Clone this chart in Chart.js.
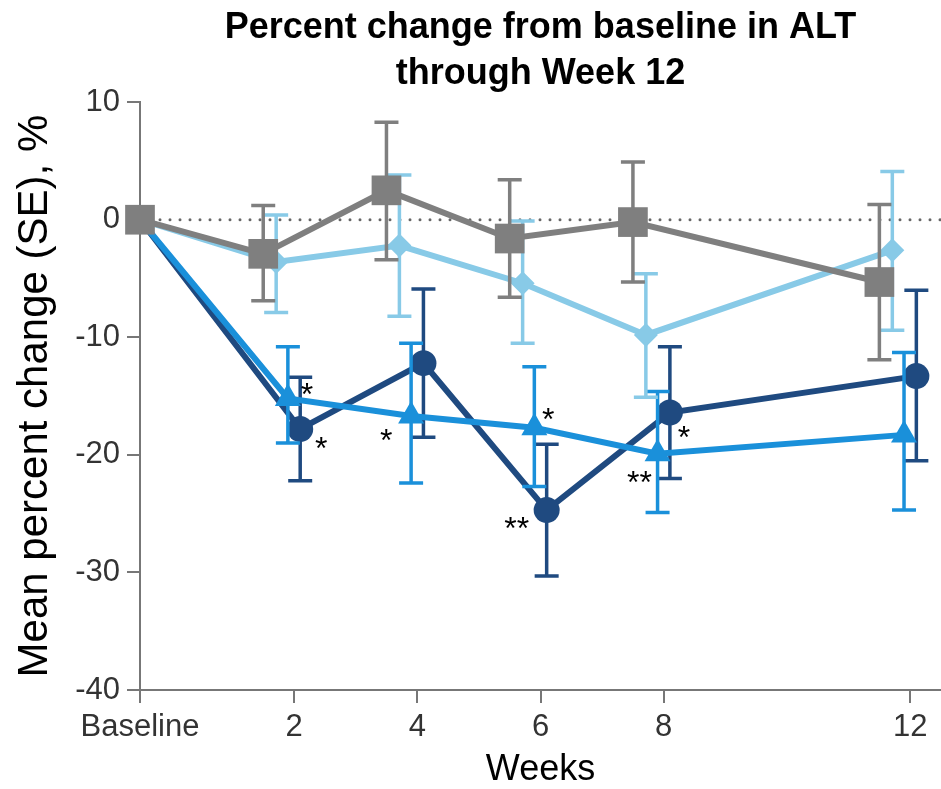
<!DOCTYPE html>
<html>
<head>
<meta charset="utf-8">
<script src="https://cdn.jsdelivr.net/npm/chart.js@4/dist/chart.umd.min.js"></script>
<style>
  html, body { margin: 0; padding: 0; background: #fff; overflow: hidden; }
  #wrap { width: 941px; height: 789px; position: relative; overflow: hidden; }
</style>
</head>
<body>
<div id="wrap"><canvas id="altChart"></canvas></div>
<script>
// categories on the x axis
var weeks = ['Baseline', 2, 4, 6, 8, 12];

// grey squares
var squareMean = [0, -2.9, 2.5, -1.6, -0.2, -5.3];
var squareHigh = [null, 1.2, 8.3, 3.4, 4.9, 1.3];
var squareLow  = [null, -6.9, -3.4, -6.6, -5.3, -11.9];

// light blue diamonds
var diamondMean = [0, -3.6, -2.2, -5.4, -9.8, -2.6];
var diamondHigh = [null, 0.4, 3.8, -0.1, -4.6, 4.1];
var diamondLow  = [null, -7.9, -8.2, -10.5, -15.1, -9.4];

// blue triangles
var triangleMean = [0, -15.2, -16.7, -17.7, -19.9, -18.3];
var triangleHigh = [null, -10.8, -10.5, -12.5, -14.6, -11.3];
var triangleLow  = [null, -19.0, -22.4, -22.7, -24.9, -24.7];

// dark blue circles
var circleMean = [0, -17.8, -12.2, -24.7, -16.4, -13.3];
var circleHigh = [null, -13.4, -5.9, -19.1, -10.8, -6.0];
var circleLow  = [null, -22.2, -18.5, -30.3, -22.0, -20.5];

// significance marks: [series, week index, text]
var sigMarks = [
    ['triangle', 1, '*'],
    ['circle', 1, '*'],
    ['triangle', 2, '*'],
    ['triangle', 3, '*'],
    ['circle', 3, '**'],
    ['triangle', 4, '**'],
    ['circle', 4, '*']
];

// layout helpers (not data)
function weekPos(w) { return w === 'Baseline' ? -0.5 : w; }
var dodge = { square: -0.5, diamond: -0.29, triangle: -0.1, circle: 0.1 };
var sigOffset = [[19, -11], [21, 12], [-25, 17], [14, -15], [-30, 11], [-18, 22], [14, 18]];

function points(key, means) {
    return weeks.map(function (w, i) {
        var x = i === 0 ? weekPos(w) : weekPos(w) + dodge[key];
        return { x: x, y: means[i] };
    });
}

function makeSet(key, means, hi, lo, color, style, radius) {
    return {
        key: key,
        data: points(key, means),
        errHigh: hi,
        errLow: lo,
        borderColor: color,
        backgroundColor: color,
        borderWidth: 6,
        pointStyle: style,
        pointRadius: radius,
        pointHoverRadius: radius,
        pointBorderWidth: 0,
        tension: 0,
        clip: false
    };
}

var zeroLine = {
    id: 'zeroLine',
    beforeDatasetsDraw: function (chart) {
        var ctx = chart.ctx, a = chart.chartArea;
        var y0 = chart.scales.y.getPixelForValue(0);
        ctx.save();
        ctx.strokeStyle = '#666';
        ctx.lineWidth = 3;
        ctx.lineCap = 'round';
        ctx.setLineDash([0, 10]);
        ctx.beginPath();
        ctx.moveTo(a.left + 10, y0);
        ctx.lineTo(a.right, y0);
        ctx.stroke();
        ctx.restore();
    }
};

var errorBars = {
    id: 'errorBars',
    beforeDatasetDraw: function (chart, args) {
        var ds = chart.data.datasets[args.index];
        var xs = chart.scales.x, ys = chart.scales.y, ctx = chart.ctx;
        ctx.save();
        ctx.strokeStyle = ds.borderColor;
        ctx.lineWidth = 3.5;
        ds.data.forEach(function (p, i) {
            if (ds.errHigh[i] == null) return;
            var px = xs.getPixelForValue(p.x);
            var top = ys.getPixelForValue(ds.errHigh[i]);
            var bot = ys.getPixelForValue(ds.errLow[i]);
            ctx.beginPath();
            ctx.moveTo(px, top); ctx.lineTo(px, bot);
            ctx.moveTo(px - 12, top); ctx.lineTo(px + 12, top);
            ctx.moveTo(px - 12, bot); ctx.lineTo(px + 12, bot);
            ctx.stroke();
        });
        ctx.restore();
    }
};

var stars = {
    id: 'stars',
    afterDatasetsDraw: function (chart) {
        var ctx = chart.ctx, xs = chart.scales.x, ys = chart.scales.y;
        ctx.save();
        ctx.fillStyle = '#000';
        ctx.font = '32px "Liberation Sans", Arial, sans-serif';
        ctx.textAlign = 'center';
        ctx.textBaseline = 'alphabetic';
        sigMarks.forEach(function (m, k) {
            var ds = chart.data.datasets.find(function (d) { return d.key === m[0]; });
            var p = ds.data[m[1]];
            var px = xs.getPixelForValue(p.x) + sigOffset[k][0];
            var py = ys.getPixelForValue(p.y) + sigOffset[k][1];
            ctx.fillText(m[2], px, py + 32 * 0.55);
        });
        ctx.restore();
    }
};

var tickFont = { family: '"Liberation Sans", Arial, sans-serif', size: 31 };

var ctx = document.getElementById('altChart').getContext('2d');
var altChart = new Chart(ctx, {
    type: 'line',
    data: {
        datasets: [
            makeSet('square', squareMean, squareHigh, squareLow, '#7f7f7f', 'rect', 21),
            makeSet('diamond', diamondMean, diamondHigh, diamondLow, '#88cae7', 'rectRot', 12),
            makeSet('triangle', triangleMean, triangleHigh, triangleLow, '#1a90da', 'triangle', 15),
            makeSet('circle', circleMean, circleHigh, circleLow, '#1f4a80', 'circle', 13)
        ]
    },
    options: {
        responsive: true,
        maintainAspectRatio: false,
        animation: false,
        layout: { autoPadding: false, padding: { left: 0, right: 0, top: 0, bottom: 0 } },
        plugins: {
            legend: { display: false },
            tooltip: { enabled: false },
            title: {
                display: true,
                fullSize: false,
                text: ['Percent change from baseline in ALT', 'through Week 12'],
                color: '#000',
                font: { family: '"Liberation Sans", Arial, sans-serif', size: 36, weight: 'bold', lineHeight: 1.28 },
                padding: { top: 5, bottom: 5 }
            }
        },
        scales: {
            x: {
                type: 'linear',
                min: -0.5,
                max: 12.5,
                afterBuildTicks: function (scale) {
                    scale.ticks = weeks.map(function (w) { return { value: weekPos(w) }; });
                },
                afterFit: function (scale) {
                    scale.height = 99;
                    scale.paddingRight = 0;
                    scale.paddingLeft = 0;
                },
                ticks: {
                    color: '#333',
                    font: tickFont,
                    padding: 6,
                    maxRotation: 0,
                    autoSkip: false,
                    callback: function (value, index) { return String(weeks[index]); }
                },
                grid: { display: true, drawOnChartArea: false, drawTicks: true, tickLength: 13, color: '#777', lineWidth: 2 },
                border: { display: true, color: '#777', width: 2 },
                title: {
                    display: true,
                    text: 'Weeks',
                    color: '#000',
                    font: { family: '"Liberation Sans", Arial, sans-serif', size: 36, lineHeight: 1.05 },
                    padding: { top: 0, bottom: 0 }
                }
            },
            y: {
                min: -40,
                max: 10,
                afterFit: function (scale) {
                    scale.width = 140;
                    scale.paddingTop = 0;
                    scale.paddingBottom = 0;
                },
                ticks: { stepSize: 10, color: '#333', font: tickFont, padding: 7 },
                grid: { display: true, drawOnChartArea: false, drawTicks: true, tickLength: 13, color: '#777', lineWidth: 2 },
                border: { display: true, color: '#777', width: 2 },
                title: {
                    display: true,
                    text: 'Mean percent change (SE), %',
                    color: '#000',
                    font: { family: '"Liberation Sans", Arial, sans-serif', size: 42, lineHeight: 1.2 },
                    padding: { top: 10, bottom: 0 }
                }
            }
        }
    },
    plugins: [zeroLine, errorBars, stars]
});
</script>
</body>
</html>
